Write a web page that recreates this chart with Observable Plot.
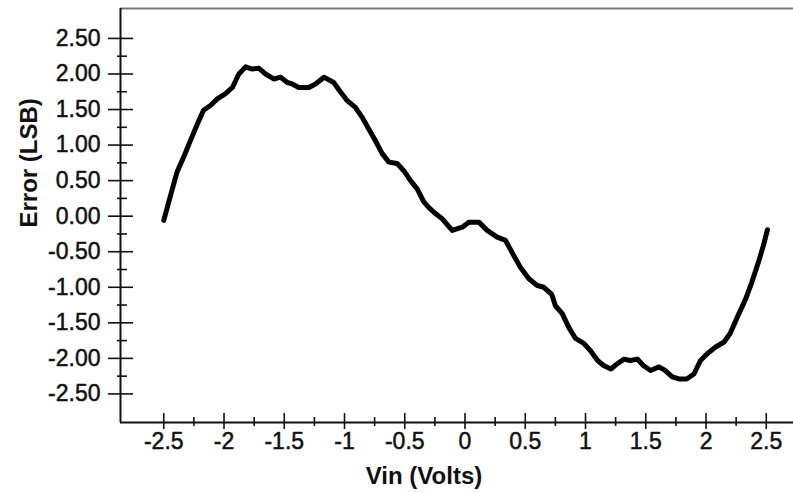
<!DOCTYPE html>
<html>
<head>
<meta charset="utf-8">
<script src="https://cdn.jsdelivr.net/npm/d3@7"></script>
<script src="https://cdn.jsdelivr.net/npm/@observablehq/plot@0.6"></script>
<style>
  html, body { margin: 0; padding: 0; background: #fff; }
  #chart { width: 793px; height: 493px; }
</style>
</head>
<body>
<div id="chart"></div>
<script>
// Curve values
const vin = [-2.50, -2.444, -2.39, -2.33, -2.28, -2.22, -2.17, -2.11, -2.056, -1.99,
  -1.93, -1.877, -1.82, -1.766, -1.71, -1.656, -1.587, -1.53, -1.475, -1.434,
  -1.38, -1.296, -1.24, -1.17, -1.09, -1.03, -0.98, -0.91, -0.853, -0.80,
  -0.743, -0.687, -0.632, -0.563, -0.508, -0.452, -0.397, -0.342, -0.30, -0.259,
  -0.189, -0.106, -0.023, 0.032, 0.115, 0.184, 0.267, 0.336, 0.39, 0.46,
  0.53, 0.60, 0.654, 0.72, 0.75, 0.807, 0.86, 0.917, 0.986, 1.04,
  1.10, 1.15, 1.21, 1.26, 1.32, 1.37, 1.43, 1.48, 1.54, 1.61,
  1.66, 1.72, 1.775, 1.84, 1.90, 1.954, 2.01, 2.08, 2.15, 2.20,
  2.26, 2.33, 2.38, 2.44, 2.48, 2.51];
const errLsb = [-0.06, 0.29, 0.62, 0.85, 1.06, 1.30, 1.49, 1.56, 1.65, 1.72,
  1.81, 2.00, 2.10, 2.07, 2.08, 2.00, 1.93, 1.955, 1.88, 1.86,
  1.81, 1.81, 1.86, 1.955, 1.88, 1.74, 1.63, 1.53, 1.39, 1.23,
  1.06, 0.88, 0.76, 0.74, 0.64, 0.50, 0.385, 0.20, 0.12, 0.056,
  -0.037, -0.20, -0.155, -0.084, -0.084, -0.20, -0.295, -0.34, -0.51, -0.72,
  -0.88, -0.975, -1.00, -1.10, -1.26, -1.37, -1.56, -1.72, -1.79, -1.89,
  -2.03, -2.10, -2.15, -2.08, -2.01, -2.03, -2.01, -2.10, -2.17, -2.12,
  -2.17, -2.26, -2.29, -2.29, -2.22, -2.03, -1.935, -1.84, -1.77, -1.65,
  -1.42, -1.16, -0.93, -0.62, -0.39, -0.19];

// Axis ticks
const xMajorTicks = [-2.5, -2, -1.5, -1, -0.5, 0, 0.5, 1, 1.5, 2, 2.5];
const xTickLabels = ["-2.5", "-2", "-1.5", "-1", "-0.5", "0", "0.5", "1", "1.5", "2", "2.5"];
const xMinorTicks = [-2.25, -1.75, -1.25, -0.75, -0.25, 0.25, 0.75, 1.25, 1.75, 2.25];
const yMajorTicks = [2.5, 2, 1.5, 1, 0.5, 0, -0.5, -1, -1.5, -2, -2.5];
const yTickLabels = ["2.50", "2.00", "1.50", "1.00", "0.50", "0.00", "-0.50", "-1.00", "-1.50", "-2.00", "-2.50"];
const yMinorTicks = [2.25, 1.75, 1.25, 0.75, 0.25, -0.25, -0.75, -1.25, -1.75, -2.25];
const xDomain = [-2.859, 2.726];
const yDomain = [-2.902, 2.921];
const xTitle = "Vin (Volts)";
const yTitle = "Error (LSB)";

const data = vin.map((v, i) => ({vin: v, err: errLsb[i]}));
const xLabelMap = new Map(xMajorTicks.map((t, i) => [t, xTickLabels[i]]));
const yLabelMap = new Map(yMajorTicks.map((t, i) => [t, yTickLabels[i]]));

const chart = Plot.plot({
  width: 793,
  height: 493,
  marginLeft: 120,
  marginRight: 0,
  marginTop: 8,
  marginBottom: 71,
  style: {fontFamily: "'Liberation Sans', Arial, Helvetica, sans-serif", background: "#fff", color: "#000"},
  x: {domain: xDomain},
  y: {domain: yDomain},
  marks: [
    // frame lines
    Plot.ruleY([yDomain[1]], {stroke: "#777", strokeWidth: 2}),
    Plot.ruleX([xDomain[0]], {stroke: "#111", strokeWidth: 2}),
    Plot.ruleY([yDomain[0]], {stroke: "#111", strokeWidth: 2}),
    // y ticks (crossing the axis)
    Plot.axisY(yMajorTicks, {tickSize: 25, dx: 13, fill: "none", stroke: "#111", strokeWidth: 1.6, label: null}),
    Plot.axisY(yMinorTicks, {tickSize: 10, dx: 7, fill: "none", stroke: "#111", strokeWidth: 1.6, label: null}),
    Plot.axisY(yMajorTicks, {tickSize: 0, tickPadding: 20, fontSize: 23, fill: "#111", textStroke: "#111", textStrokeWidth: 0.5, tickFormat: d => yLabelMap.get(d), label: null}),
    // x ticks (crossing the axis)
    Plot.axisX(xMajorTicks, {tickSize: 16, dy: -9, fill: "none", stroke: "#111", strokeWidth: 1.6, label: null}),
    Plot.axisX(xMinorTicks, {tickSize: 9, dy: -5, fill: "none", stroke: "#111", strokeWidth: 1.6, label: null}),
    Plot.axisX(xMajorTicks, {tickSize: 0, tickPadding: 10, fontSize: 23, fill: "#111", textStroke: "#111", textStrokeWidth: 0.5, tickFormat: d => xLabelMap.get(d), label: null}),
    // titles
    Plot.text([xTitle], {text: d => d, frameAnchor: "bottom", dx: -33, dy: 54, lineAnchor: "middle", fontSize: 24, fontWeight: "bold", fill: "#111"}),
    Plot.text([yTitle], {text: d => d, frameAnchor: "left", dx: -91, dy: 12, rotate: -90, lineAnchor: "middle", fontSize: 24, fontWeight: "bold", fill: "#111"}),
    // the error curve
    Plot.line(data, {x: "vin", y: "err", stroke: "#000", strokeWidth: 5, strokeLinejoin: "round", strokeLinecap: "round"})
  ]
});
document.getElementById("chart").appendChild(chart);
</script>
</body>
</html>
